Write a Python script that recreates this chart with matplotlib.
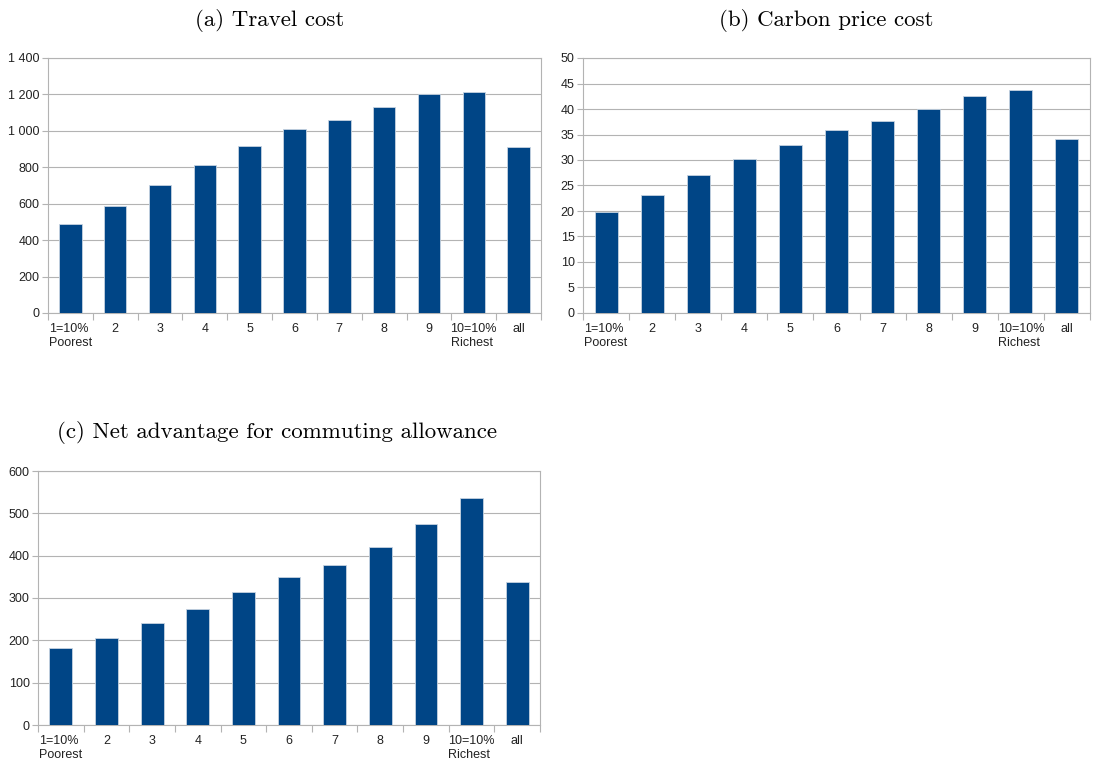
import matplotlib.pyplot as plt
from matplotlib.ticker import FuncFormatter, MultipleLocator
import numpy as np

categories = ["1=10%\nPoorest", "2", "3", "4", "5", "6", "7", "8", "9",
              "10=10%\nRichest", "all"]
travel_cost = [490, 585, 700, 813, 915, 1008, 1060, 1132, 1200, 1213, 910]
carbon_cost = [19.8, 23.1, 27.0, 30.2, 33.0, 35.8, 37.6, 40.0, 42.5, 43.8, 34.2]
net_advantage = [183, 205, 240, 275, 313, 350, 378, 420, 475, 537, 338]

W, H = 1096, 764
BAR = "#004586"
GRID = "#b3b3b3"

plt.rcParams["font.family"] = ["Liberation Sans", "DejaVu Sans"]


def space_thousands(v, pos):
    return "{:,.0f}".format(v).replace(",", " ")


def panel(box, values, ymax, step, fmt=None):
    x0, y0, x1, y1 = box  # pixel box, y from top
    ax = fig.add_axes([x0 / W, 1 - y1 / H, (x1 - x0) / W, (y1 - y0) / H])
    x = np.arange(len(values))
    ax.bar(x, values, width=0.5, color=BAR, edgecolor="#c6d3e0",
           linewidth=0.6, zorder=3)
    ax.set_xlim(-0.5, len(values) - 0.5)
    ax.set_ylim(0, ymax)
    ax.yaxis.set_major_locator(MultipleLocator(step))
    if fmt:
        ax.yaxis.set_major_formatter(FuncFormatter(fmt))
    ax.grid(axis="y", color=GRID, linewidth=0.8, zorder=0)
    for s in ax.spines.values():
        s.set_color(GRID)
        s.set_linewidth(0.8)
    ax.set_xticks(x)
    ax.set_xticklabels(categories, fontsize=9, color="#222222",
                       linespacing=1.2, multialignment="left")
    ax.tick_params(axis="x", which="major", length=0, pad=7)
    ax.set_xticks(np.arange(-0.5, len(values)), minor=True)
    ax.tick_params(axis="x", which="minor", length=5, color=GRID, width=0.8)
    ax.tick_params(axis="y", length=4, color=GRID, width=0.8,
                   labelsize=9, labelcolor="#222222", pad=2)
    return ax


fig = plt.figure(figsize=(W / 100, H / 100), dpi=100)

panel((48, 58, 541, 313), travel_cost, 1400, 200, space_thousands)
panel((583, 58, 1090, 313), carbon_cost, 50, 5)
panel((38, 471, 540, 725), net_advantage, 600, 100)

title_kw = dict(family="cmr10", fontsize=16.5, ha="center", va="center")
fig.text(270 / W, 1 - 20 / H, "(a) Travel cost", **title_kw)
fig.text(826 / W, 1 - 20 / H, "(b) Carbon price cost", **title_kw)
fig.text(277 / W, 1 - 432 / H, "(c) Net advantage for commuting allowance",
         **title_kw)

fig.savefig("out.png", dpi=100)
